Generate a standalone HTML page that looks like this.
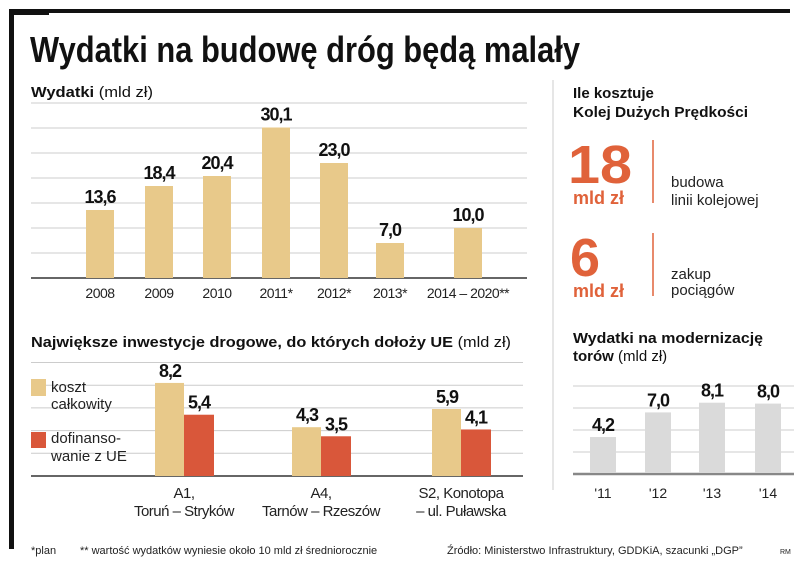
<!DOCTYPE html>
<html><head><meta charset="utf-8">
<style>
html,body{margin:0;padding:0;background:#fff;}
svg{display:block;font-family:"Liberation Sans Narrow","Liberation Sans",sans-serif;}
.b{font-weight:bold;}
</style></head>
<body>
<svg id="svg" width="805" height="579" viewBox="0 0 805 579" xmlns="http://www.w3.org/2000/svg">
<rect x="10" y="9" width="780" height="4" fill="#111"/>
<rect x="9" y="9" width="5" height="540" fill="#111"/>
<rect x="9" y="9" width="40" height="6" fill="#111"/>
<text x="30" y="62" font-size="36" class="b" fill="#111" textLength="550" lengthAdjust="spacingAndGlyphs">Wydatki na budowę dróg będą malały</text>
<line x1="553" y1="80" x2="553" y2="490" stroke="#ddd" stroke-width="1.5"/>

<text x="31" y="97" font-size="15" fill="#111" textLength="122" lengthAdjust="spacingAndGlyphs"><tspan class="b">Wydatki</tspan> (mld zł)</text>
<g id="c1"></g>

<text x="573" y="98" font-size="15" class="b" fill="#111">Ile kosztuje</text>
<text x="573" y="117" font-size="15" class="b" fill="#111" textLength="175" lengthAdjust="spacingAndGlyphs">Kolej Dużych Prędkości</text>
<text x="568" y="183" font-size="54" class="b" fill="#e0623a" textLength="64" lengthAdjust="spacingAndGlyphs">18</text>
<text x="573" y="204" font-size="18" class="b" fill="#e0623a">mld zł</text>
<line x1="653" y1="140" x2="653" y2="203" stroke="#e0623a" stroke-width="1.5"/>
<text x="671" y="187" font-size="15" fill="#222">budowa</text>
<text x="671" y="205" font-size="15" fill="#222">linii kolejowej</text>
<text x="570" y="276" font-size="54" class="b" fill="#e0623a">6</text>
<text x="573" y="297" font-size="18" class="b" fill="#e0623a">mld zł</text>
<line x1="653" y1="233" x2="653" y2="296" stroke="#e0623a" stroke-width="1.5"/>
<text x="671" y="279" font-size="15" fill="#222">zakup</text>
<text x="671" y="295" font-size="15" fill="#222">pociągów</text>

<text x="31" y="347" font-size="15" fill="#111" textLength="480" lengthAdjust="spacingAndGlyphs"><tspan class="b">Największe inwestycje drogowe, do których dołoży UE</tspan> (mld zł)</text>
<g id="c2"></g>
<rect x="31" y="379" width="15" height="17" fill="#e8c98a"/>
<text x="51" y="392" font-size="15" fill="#222">koszt</text>
<text x="51" y="409" font-size="15" fill="#222">całkowity</text>
<rect x="31" y="432" width="15" height="16" fill="#d9573a"/>
<text x="51" y="443" font-size="15" fill="#222">dofinanso-</text>
<text x="51" y="461" font-size="15" fill="#222">wanie z UE</text>

<text x="573" y="343" font-size="15" class="b" fill="#111" textLength="190" lengthAdjust="spacingAndGlyphs">Wydatki na modernizację</text>
<text x="573" y="361" font-size="15" fill="#111"><tspan class="b">torów</tspan> (mld zł)</text>
<g id="c3"></g>

<text x="31" y="554" font-size="11" fill="#222">*plan</text>
<text x="80" y="554" font-size="11" fill="#222">** wartość wydatków wyniesie około 10 mld zł średniorocznie</text>
<text x="447" y="554" font-size="11" fill="#222">Źródło: Ministerstwo Infrastruktury, GDDKiA, szacunki „DGP”</text>
<text x="780" y="554" font-size="7" fill="#222">RM</text>
</svg>
<script>
const spendCats=["2008","2009","2010","2011*","2012*","2013*","2014 – 2020**"];
const spendVals=[13.6,18.4,20.4,30.1,23.0,7.0,10.0];
const spendLabels=["13,6","18,4","20,4","30,1","23,0","7,0","10,0"];
const spendTicks=[0,5,10,15,20,25,30,35];
const investCats=[["A1,","Toruń – Stryków"],["A4,","Tarnów – Rzeszów"],["S2, Konotopa","– ul. Puławska"]];
const investTotal=[8.2,4.3,5.9];
const investEU=[5.4,3.5,4.1];
const investTotalLabels=["8,2","4,3","5,9"];
const investEULabels=["5,4","3,5","4,1"];
const investTicks=[0,2,4,6,8,10];
const trackCats=["'11","'12","'13","'14"];
const trackVals=[4.2,7.0,8.1,8.0];
const trackLabels=["4,2","7,0","8,1","8,0"];
const trackTicks=[0,2.5,5,7.5,10];

const NS="http://www.w3.org/2000/svg";
function mk(g,tag,a,txt){const e=document.createElementNS(NS,tag);for(const k in a)e.setAttribute(k,a[k]);if(txt!==undefined)e.textContent=txt;g.appendChild(e);return e;}

// chart 1
(function(){
const g=document.getElementById('c1');
const y=v=>278-v*5.0;
const centers=[100,159,217,276,334,390,468];
spendTicks.forEach((t,i)=>{const l=mk(g,'line',{x1:31,x2:527,y1:y(t),y2:y(t),stroke:i===0?'#333':'#ccc','stroke-width':i===0?1.5:1});

});
spendVals.forEach((v,i)=>{
const r=mk(g,'rect',{x:centers[i]-14,y:y(v),width:28,height:y(0)-y(v),fill:'#e8c98a'});


const t=mk(g,'text',{x:centers[i],y:y(v)-7,'text-anchor':'middle','font-size':18,'font-weight':'bold','letter-spacing':-1,fill:'#111'},spendLabels[i]);


const c=mk(g,'text',{x:centers[i],y:298,'text-anchor':'middle','font-size':14,'letter-spacing':-0.5,fill:'#222'},spendCats[i]);


});
})();

// chart 2
(function(){
const g=document.getElementById('c2');
const y=v=>476-v*11.35;
const centers=[184,321,461];
investTicks.forEach((t,i)=>{const l=mk(g,'line',{x1:31,x2:523,y1:y(t),y2:y(t),stroke:i===0?'#333':'#ccc','stroke-width':i===0?1.5:1});

});
investTotal.forEach((v,i)=>{
const c=centers[i];
const r1=mk(g,'rect',{x:c-29,y:y(v),width:29,height:y(0)-y(v),fill:'#e8c98a'});


const e=investEU[i];
const r2=mk(g,'rect',{x:c,y:y(e),width:30,height:y(0)-y(e),fill:'#d9573a'});


const t1=mk(g,'text',{x:c-14,y:y(v)-6,'text-anchor':'middle','font-size':18,'font-weight':'bold','letter-spacing':-1,fill:'#111'},investTotalLabels[i]);


const t2=mk(g,'text',{x:c+15,y:y(e)-6,'text-anchor':'middle','font-size':18,'font-weight':'bold','letter-spacing':-1,fill:'#111'},investEULabels[i]);


investCats[i].forEach((s,k)=>{const l=mk(g,'text',{x:c,y:498+k*18,'text-anchor':'middle','font-size':15,'letter-spacing':-0.5,fill:'#222'},s);

});
});
})();

// chart 3
(function(){
const g=document.getElementById('c3');
const y=v=>474-v*8.8;
const centers=[603,658,712,768];
trackTicks.forEach((t,i)=>{const l=mk(g,'line',{x1:573,x2:794,y1:y(t),y2:y(t),stroke:i===0?'#888':'#ccc','stroke-width':i===0?2.5:1});

});
trackVals.forEach((v,i)=>{
const r=mk(g,'rect',{x:centers[i]-13,y:y(v),width:26,height:y(0)-y(v)-1,fill:'#dadada'});


const t=mk(g,'text',{x:centers[i],y:y(v)-6,'text-anchor':'middle','font-size':18,'font-weight':'bold','letter-spacing':-1,fill:'#111'},trackLabels[i]);


const c=mk(g,'text',{x:centers[i],y:498,'text-anchor':'middle','font-size':14,fill:'#222'},trackCats[i]);


});
})();
</script>
</body></html>
